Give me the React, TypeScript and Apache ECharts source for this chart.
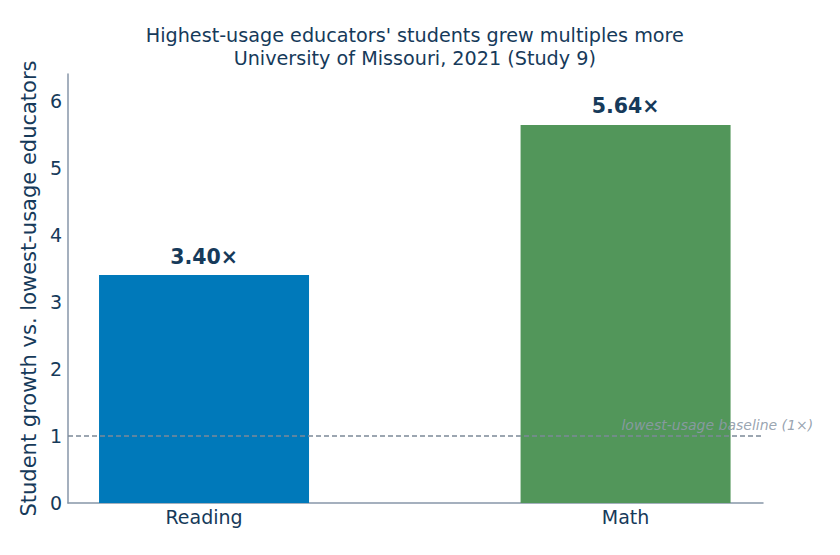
import React, { useEffect, useRef } from "react";
import * as echarts from "echarts";

const categories = ["Reading", "Math"];
const values = [3.4, 5.64];
const barColors = ["#0079BA", "#52965A"];
const yTicks = [0, 1, 2, 3, 4, 5, 6];
const baselineValue = 1;
const baselineLabel = "lowest-usage baseline (1×)";
const titleLines = [
  "Highest-usage educators' students grew multiples more",
  "University of Missouri, 2021 (Study 9)",
];
const yAxisName = "Student growth vs. lowest-usage educators";

const NAVY = "#163A5A";
const AXIS = "#8796A8";
const FONT = "DejaVu Sans";

export default function App() {
  const ref = useRef<HTMLDivElement>(null);
  useEffect(() => {
    if (!ref.current) return;
    const chart = echarts.init(ref.current, null, { renderer: "svg" });
    chart.setOption({
      animation: false,
      backgroundColor: "#ffffff",
      grid: { left: 68, right: 77, top: 74, bottom: 52, containLabel: false },
      xAxis: {
        type: "value",
        min: -0.3227,
        max: 1.326,
        splitLine: { show: false },
        axisTick: { show: false },
        axisLine: { show: true, onZero: false, lineStyle: { color: AXIS, width: 1.5 } },
        axisLabel: {
          customValues: categories.map((_, i) => i),
          formatter: (v: number) => categories[Math.round(v)] ?? "",
          fontFamily: FONT,
          fontSize: 19,
          color: NAVY,
          margin: 4,
        },
      },
      yAxis: {
        type: "value",
        min: 0,
        max: 6.4,
        splitLine: { show: false },
        axisTick: { show: false },
        axisLine: { show: true, onZero: false, lineStyle: { color: AXIS, width: 1.5 } },
        axisLabel: {
          customValues: yTicks,
          fontFamily: FONT,
          fontSize: 19,
          color: NAVY,
          margin: 6,
        },
        name: yAxisName,
        nameLocation: "middle",
        nameGap: 22,
        nameTextStyle: { fontFamily: FONT, fontSize: 21, color: NAVY },
      },
      series: [
        {
          type: "bar",
          barWidth: 210,
          data: values.map((v, i) => ({
            value: [i, v],
            itemStyle: { color: barColors[i] },
          })),
          label: {
            show: true,
            position: "top",
            distance: 8,
            formatter: (p: any) => `${p.value[1].toFixed(2)}×`,
            fontFamily: FONT,
            fontSize: 20.5,
            fontWeight: "bold",
            color: NAVY,
          },
          markLine: {
            silent: true,
            symbol: "none",
            data: [{ yAxis: baselineValue }],
            lineStyle: { color: "#7C8998", type: [5, 3], width: 1.5 },
            label: { show: false },
          },
        },
      ],
    });
    const [px, py] = chart.convertToPixel({ gridIndex: 0 }, [1.445, baselineValue]);
    const [cx] = chart.convertToPixel({ gridIndex: 0 }, [0.5, 0]);
    chart.setOption({
      graphic: [
        {
          type: "text",
          z: 100,
          x: cx,
          y: 24,
          style: {
            text: titleLines.join("\n"),
            fontFamily: FONT,
            fontSize: 19.2,
            fill: NAVY,
            lineHeight: 23,
            align: "center",
            verticalAlign: "top",
          },
        },
        {
          type: "text",
          z: 100,
          x: px,
          y: py - 4,
          style: {
            text: baselineLabel,
            fontFamily: FONT,
            fontSize: 14,
            fontStyle: "italic",
            fill: "#8E9AA8",
            opacity: 0.9,
            align: "right",
            verticalAlign: "bottom",
          },
        },
      ],
    });
    return () => chart.dispose();
  }, []);
  return (
    <div
      style={{
        position: "fixed",
        left: 0,
        top: 0,
        width: 840,
        height: 555,
        boxSizing: "border-box",
        borderTop: "1px solid #eeeeee",
        borderLeft: "1px solid #eeeeee",
        borderBottom: "2px solid #c8c8c8",
        background: "#fff",
      }}
    >
      <div
        ref={ref}
        style={{ position: "absolute", left: -1, top: -1, width: 840, height: 555 }}
      />
    </div>
  );
}
